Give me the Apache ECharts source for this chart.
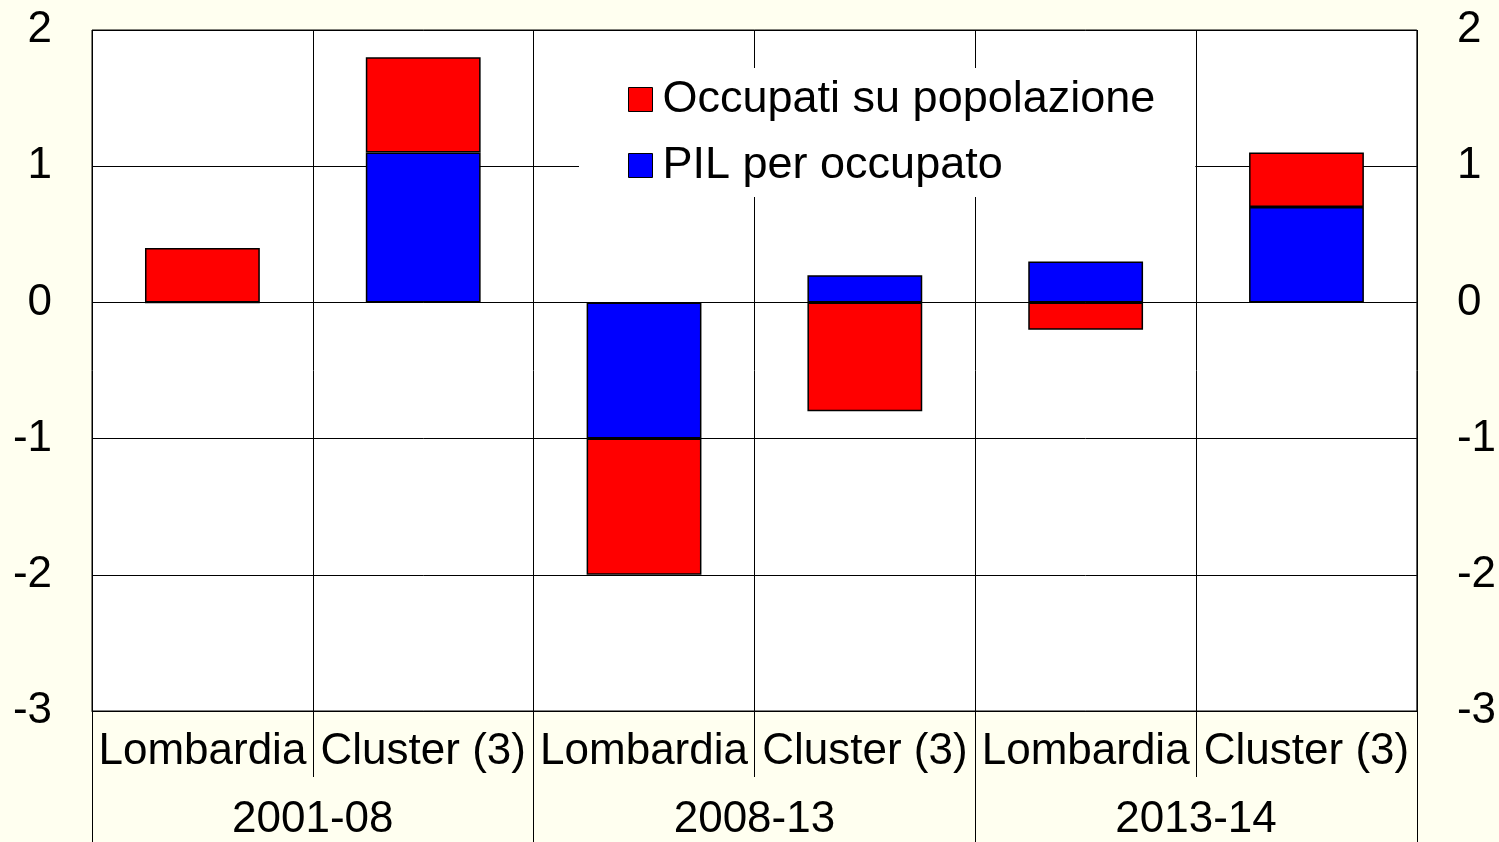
<!DOCTYPE html>
<html>
<head>
<meta charset="utf-8">
<script src="https://cdn.jsdelivr.net/npm/echarts@6/dist/echarts.min.js"></script>
<style>
html,body{margin:0;padding:0;background:#FFFFF0;}
#chart{width:1499px;height:842px;}
</style>
</head>
<body>
<div id="chart"></div>
<script>
const categories = ['Lombardia', 'Cluster (3)', 'Lombardia', 'Cluster (3)', 'Lombardia', 'Cluster (3)'];
const periods = ['2001-08', '2008-13', '2013-14'];
const pilPerOccupato = [0.0, 1.1, -1.0, 0.2, 0.3, 0.7];
const occupatiSuPopolazione = [0.4, 0.7, -1.0, -0.8, -0.2, 0.4];
const yTicks = [-3, -2, -1, 0, 1, 2];

const FONT = 'Liberation Sans, Arial, sans-serif';
const chart = echarts.init(document.getElementById('chart'), null, {renderer: 'canvas'});

const yAxisCommon = {
  type: 'value',
  min: yTicks[0],
  max: yTicks[yTicks.length - 1],
  interval: 1,
  axisLine: {show: false},
  axisTick: {show: false},
  axisLabel: {fontSize: 44, color: '#000', fontFamily: FONT, margin: 40, padding: [6, 0, 0, 0]}
};

chart.setOption({
  backgroundColor: '#FFFFF0',
  animation: false,
  grid: {
    left: 92, right: 82, top: 30, bottom: 130,
    show: true, backgroundColor: '#fff', borderColor: '#000', borderWidth: 1
  },
  legend: {
    orient: 'vertical',
    left: 579, top: 68,
    padding: [9, 40, 9, 49],
    backgroundColor: '#fff',
    itemWidth: 24, itemHeight: 24, itemGap: 21,
    icon: 'rect',
    textStyle: {fontSize: 45, color: '#000', fontFamily: FONT, lineHeight: 44, padding: [0, 0, 0, 5]},
    data: [
      {name: 'Occupati su popolazione', itemStyle: {borderColor: '#000', borderWidth: 1}},
      {name: 'PIL per occupato', itemStyle: {borderColor: '#000', borderWidth: 1}}
    ]
  },
  xAxis: [
    {
      type: 'category',
      data: categories,
      position: 'bottom',
      axisLine: {show: true, onZero: false, lineStyle: {color: '#000', width: 1}},
      axisTick: {show: true, interval: 0, length: 66, lineStyle: {color: '#000'}},
      splitLine: {show: true, interval: 0, lineStyle: {color: '#000', width: 1}},
      axisLabel: {interval: 0, fontSize: 44, color: '#000', fontFamily: FONT, margin: 19}
    },
    {
      type: 'category',
      data: periods,
      position: 'bottom',
      offset: 66,
      axisLine: {show: true, onZero: false, lineStyle: {color: 'rgba(0,0,0,0)', width: 1}},
      axisTick: {show: true, interval: 0, length: 70, lineStyle: {color: '#000', width: 1}},
      splitLine: {show: false},
      axisLabel: {interval: 0, fontSize: 44, color: '#000', fontFamily: FONT, margin: 21}
    }
  ],
  yAxis: [
    Object.assign({}, yAxisCommon, {
      position: 'left',
      splitLine: {show: true, lineStyle: {color: '#000', width: 1}}
    }),
    Object.assign({}, yAxisCommon, {
      position: 'right',
      splitLine: {show: false}
    })
  ],
  series: [
    {
      name: 'PIL per occupato',
      type: 'bar',
      stack: 'tot',
      barWidth: '52%',
      data: pilPerOccupato,
      itemStyle: {color: '#0000FF', borderColor: '#000', borderWidth: 1.5}
    },
    {
      name: 'Occupati su popolazione',
      type: 'bar',
      stack: 'tot',
      barWidth: '52%',
      data: occupatiSuPopolazione,
      itemStyle: {color: '#FF0000', borderColor: '#000', borderWidth: 1.5}
    }
  ]
});
</script>
</body>
</html>
